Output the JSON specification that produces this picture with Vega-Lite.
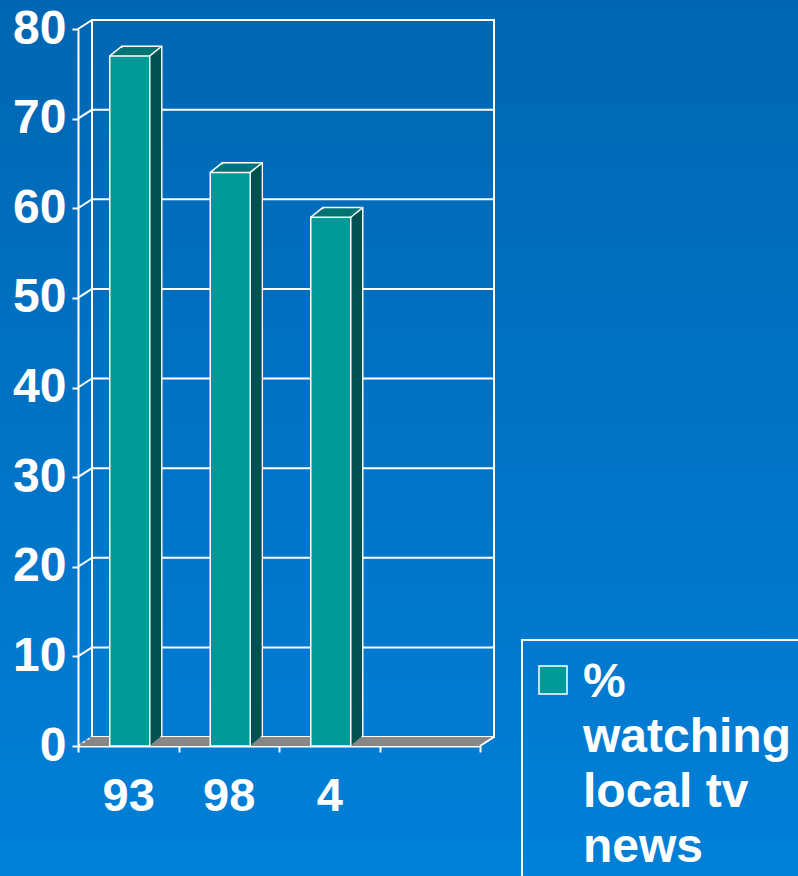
{
  "$schema": "https://vega.github.io/schema/vega-lite/v6.json",
  "width": 798,
  "height": 876,
  "autosize": {"type": "none"},
  "padding": 0,
  "background": "#0072C2",
  "config": {
    "view": {
      "stroke": null,
      "fill": {
        "gradient": "linear",
        "x1": 0, "y1": 0, "x2": 0, "y2": 1,
        "stops": [
          {"offset": 0, "color": "#0066B2"},
          {"offset": 1, "color": "#0080D8"}
        ]
      }
    },
    "font": "Liberation Sans",
    "legend": {"strokeWidth": 2}
  },
  "datasets": {
    "bars": [
      {"year": "93", "pct": 77, "series": "% watching local\u00a0tv news"},
      {"year": "98", "pct": 64, "series": "% watching local\u00a0tv news"},
      {"year": "4", "pct": 59, "series": "% watching local\u00a0tv news"}
    ],
    "grid": [
      {"v": 0}, {"v": 10}, {"v": 20}, {"v": 30}, {"v": 40},
      {"v": 50}, {"v": 60}, {"v": 70}, {"v": 80}
    ],
    "one": [{}]
  },
  "encoding": {
    "x": {
      "field": "year", "type": "nominal",
      "scale": {"domain": ["93", "98", "4", " "], "range": [78, 480], "paddingInner": 0, "paddingOuter": 0},
      "axis": {
        "orient": "bottom", "offset": -130, "title": null, "labelAngle": 0,
        "labelFont": "Liberation Sans", "labelFontSize": 47, "labelFontWeight": "bold", "labelColor": "white",
        "labelPadding": 21, "tickBand": "extent", "tickSize": 6, "tickColor": "white", "tickWidth": 2,
        "domainColor": "white", "domainWidth": 2, "grid": false
      }
    },
    "y": {
      "type": "quantitative",
      "scale": {"domain": [0, 80], "range": [746, 29], "nice": false},
      "axis": {
        "orient": "left", "offset": -78, "title": null, "values": [0, 10, 20, 30, 40, 50, 60, 70, 80],
        "labelFont": "Liberation Sans", "labelFontSize": 48, "labelFontWeight": "bold", "labelColor": "white",
        "labelPadding": 6, "tickSize": 6, "tickColor": "white", "tickWidth": 2,
        "domainColor": "white", "domainWidth": 2, "grid": false
      }
    }
  },
  "layer": [
    {
      "data": {"name": "grid"},
      "mark": {"type": "rule", "color": "white", "strokeWidth": 2, "xOffset": 14, "x2Offset": 14, "yOffset": -9},
      "encoding": {
        "x": {"datum": "93", "bandPosition": 0},
        "x2": {"datum": " ", "bandPosition": 1},
        "y": {"field": "v", "type": "quantitative"}
      }
    },
    {
      "data": {"name": "grid"},
      "mark": {"type": "rule", "color": "white", "strokeWidth": 2, "x2Offset": 14, "y2Offset": -9},
      "encoding": {
        "x": {"datum": "93", "bandPosition": 0},
        "x2": {"datum": "93", "bandPosition": 0},
        "y": {"field": "v", "type": "quantitative"},
        "y2": {"field": "v"}
      }
    },
    {
      "data": {"name": "one"},
      "mark": {"type": "rect", "filled": false, "stroke": "white", "strokeWidth": 2, "xOffset": 14, "x2Offset": 14, "yOffset": -9, "y2Offset": -9},
      "encoding": {
        "x": {"datum": "93", "bandPosition": 0},
        "x2": {"datum": " ", "bandPosition": 1},
        "y": {"datum": 0, "type": "quantitative"},
        "y2": {"datum": 80}
      }
    },
    {
      "data": {"name": "one"},
      "mark": {"type": "rect", "color": "#878787", "xOffset": 2.3, "x2Offset": 2.3, "yOffset": 0, "y2Offset": -3.2},
      "encoding": {
        "x": {"datum": "93", "bandPosition": 0},
        "x2": {"datum": " ", "bandPosition": 1},
        "y": {"datum": 0, "type": "quantitative"},
        "y2": {"datum": 0}
      }
    },
    {
      "data": {"name": "one"},
      "mark": {"type": "rect", "color": "#878787", "xOffset": 7, "x2Offset": 7, "yOffset": -3, "y2Offset": -6.2},
      "encoding": {
        "x": {"datum": "93", "bandPosition": 0},
        "x2": {"datum": " ", "bandPosition": 1},
        "y": {"datum": 0, "type": "quantitative"},
        "y2": {"datum": 0}
      }
    },
    {
      "data": {"name": "one"},
      "mark": {"type": "rect", "color": "#878787", "xOffset": 11.7, "x2Offset": 11.7, "yOffset": -6, "y2Offset": -9},
      "encoding": {
        "x": {"datum": "93", "bandPosition": 0},
        "x2": {"datum": " ", "bandPosition": 1},
        "y": {"datum": 0, "type": "quantitative"},
        "y2": {"datum": 0}
      }
    },
    {
      "data": {"name": "one"},
      "mark": {"type": "rule", "color": "white", "strokeWidth": 2, "x2Offset": 14, "y2Offset": -9},
      "encoding": {
        "x": {"datum": " ", "bandPosition": 1},
        "x2": {"datum": " ", "bandPosition": 1},
        "y": {"datum": 0, "type": "quantitative"},
        "y2": {"datum": 0}
      }
    },
    {
      "data": {"name": "bars"},
      "mark": {"type": "bar", "width": 40, "fill": "#007373", "stroke": "white", "strokeWidth": 1.5, "xOffset": 13.5, "yOffset": -9.6, "y2Offset": -9.6},
      "encoding": {"y": {"field": "pct", "type": "quantitative"}}
    },
    {
      "data": {"name": "bars"},
      "mark": {"type": "bar", "width": 40, "fill": "#007373", "xOffset": 11.5, "yOffset": -8, "y2Offset": -8},
      "encoding": {"y": {"field": "pct", "type": "quantitative"}}
    },
    {
      "data": {"name": "bars"},
      "mark": {"type": "bar", "width": 40, "fill": "#007373", "xOffset": 9.5, "yOffset": -6.4, "y2Offset": -6.4},
      "encoding": {"y": {"field": "pct", "type": "quantitative"}}
    },
    {
      "data": {"name": "bars"},
      "mark": {"type": "bar", "width": 40, "fill": "#007373", "xOffset": 7.5, "yOffset": -4.8, "y2Offset": -4.8},
      "encoding": {"y": {"field": "pct", "type": "quantitative"}}
    },
    {
      "data": {"name": "bars"},
      "mark": {"type": "bar", "width": 40, "fill": "#007373", "xOffset": 5.5, "yOffset": -3.2, "y2Offset": -3.2},
      "encoding": {"y": {"field": "pct", "type": "quantitative"}}
    },
    {
      "data": {"name": "bars"},
      "mark": {"type": "bar", "width": 40, "fill": "#007373", "xOffset": 3.5, "yOffset": -1.6, "y2Offset": -1.6},
      "encoding": {"y": {"field": "pct", "type": "quantitative"}}
    },
    {
      "data": {"name": "bars"},
      "mark": {"type": "bar", "width": 2, "fill": "#004D4D", "xOffset": 22.5, "yOffset": -1.6, "y2Offset": -1.6},
      "encoding": {"y": {"field": "pct", "type": "quantitative"}}
    },
    {
      "data": {"name": "bars"},
      "mark": {"type": "bar", "width": 2, "fill": "#004D4D", "xOffset": 24.5, "yOffset": -3.2, "y2Offset": -3.2},
      "encoding": {"y": {"field": "pct", "type": "quantitative"}}
    },
    {
      "data": {"name": "bars"},
      "mark": {"type": "bar", "width": 2, "fill": "#004D4D", "xOffset": 26.5, "yOffset": -4.8, "y2Offset": -4.8},
      "encoding": {"y": {"field": "pct", "type": "quantitative"}}
    },
    {
      "data": {"name": "bars"},
      "mark": {"type": "bar", "width": 2, "fill": "#004D4D", "xOffset": 28.5, "yOffset": -6.4, "y2Offset": -6.4},
      "encoding": {"y": {"field": "pct", "type": "quantitative"}}
    },
    {
      "data": {"name": "bars"},
      "mark": {"type": "bar", "width": 2, "fill": "#004D4D", "xOffset": 30.5, "yOffset": -8, "y2Offset": -8},
      "encoding": {"y": {"field": "pct", "type": "quantitative"}}
    },
    {
      "data": {"name": "bars"},
      "mark": {"type": "bar", "width": 1.2, "fill": "#004D4D", "xOffset": 32.1, "yOffset": -9.6, "y2Offset": -9.6},
      "encoding": {"y": {"field": "pct", "type": "quantitative"}}
    },
    {
      "data": {"name": "bars"},
      "mark": {"type": "rule", "color": "white", "strokeWidth": 1.5, "xOffset": -18.5, "x2Offset": -6.5, "y2Offset": -9.6},
      "encoding": {
        "x2": {"field": "year"},
        "y": {"field": "pct", "type": "quantitative"},
        "y2": {"field": "pct"}
      }
    },
    {
      "data": {"name": "bars"},
      "mark": {"type": "rule", "color": "white", "strokeWidth": 1.5, "xOffset": 21.5, "x2Offset": 33.5, "y2Offset": -9.6},
      "encoding": {
        "x2": {"field": "year"},
        "y": {"field": "pct", "type": "quantitative"},
        "y2": {"field": "pct"}
      }
    },
    {
      "data": {"name": "bars"},
      "mark": {"type": "bar", "width": 40, "stroke": "white", "strokeWidth": 1.5, "opacity": 1, "xOffset": 1.5},
      "encoding": {
        "y": {"field": "pct", "type": "quantitative"},
        "color": {
          "field": "series", "type": "nominal",
          "scale": {"range": ["#009999"]},
          "legend": {
            "orient": "none", "legendX": 522, "legendY": 640, "title": null,
            "symbolType": "square", "symbolSize": 784, "symbolStrokeColor": "white", "symbolStrokeWidth": 1.5,
            "symbolOpacity": 1, "symbolOffset": -9,
            "labelFont": "Liberation Sans", "labelFontSize": 48, "labelFontWeight": "bold", "labelColor": "white",
            "labelOffset": 6, "labelLimit": 0, "padding": 16, "strokeColor": "white",
            "labelBaseline": "alphabetic",
            "encode": {"labels": {"update": {"lineBreak": {"value": " "}, "lineHeight": {"value": 55}, "dy": {"value": 17}}}}
          }
        }
      }
    }
  ]
}
